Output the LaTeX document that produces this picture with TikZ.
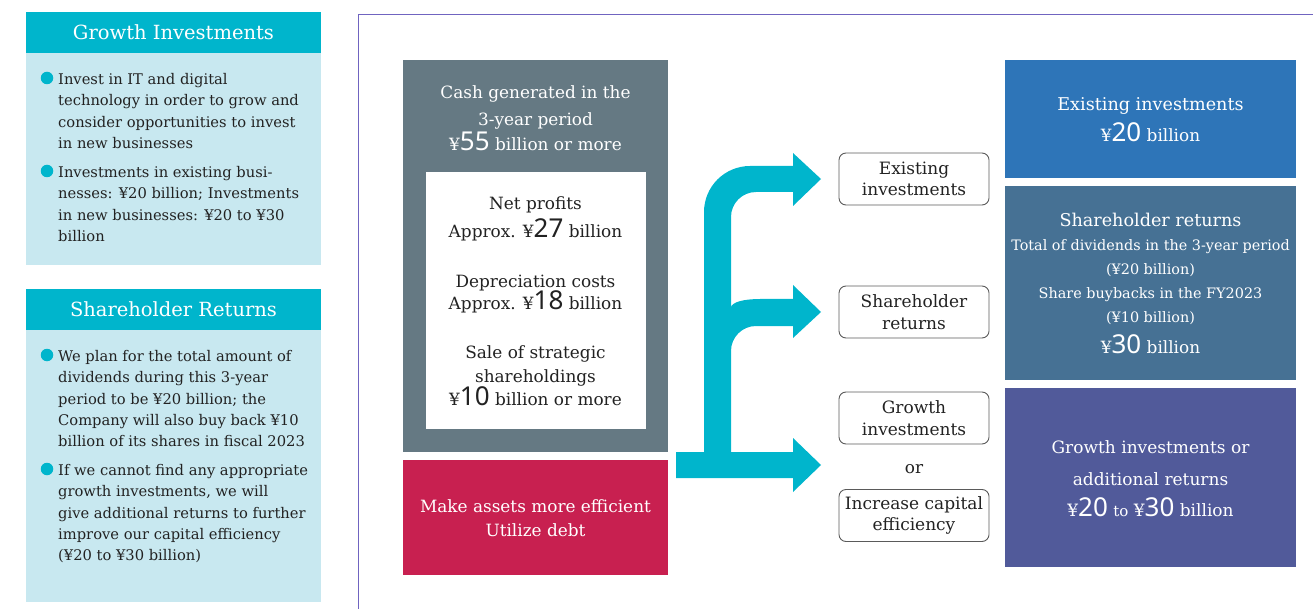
\documentclass[tikz,border=0pt]{standalone}
\usepackage{fontspec}
\setmainfont{DejaVu Serif}
\newfontfamily\numfont{Noto Sans}
\definecolor{teal}{RGB}{0,181,204}
\definecolor{paleblue}{RGB}{200,232,240}
\definecolor{ink}{RGB}{34,34,34}
\definecolor{framepurple}{RGB}{112,100,192}
\definecolor{slate}{RGB}{101,121,131}
\definecolor{crimson}{RGB}{200,32,80}
\definecolor{boxblue}{RGB}{46,117,184}
\definecolor{boxsteel}{RGB}{70,113,148}
\definecolor{boxindigo}{RGB}{81,90,154}
\definecolor{outline}{RGB}{90,90,90}
\newcommand\AmtBig[1]{{\numfont\fontsize{26}{26}\selectfont #1}}
\begin{document}
\begin{tikzpicture}[x=1pt,y=-1pt,
  panelhead/.style={fill=teal},
  panelbody/.style={fill=paleblue},
  headtext/.style={anchor=mid,inner sep=0,yshift=-4,text=white,font=\fontsize{19.5}{22}\selectfont},
  bodytext/.style={anchor=mid west,inner sep=0,yshift=-3,text=ink,font=\fontsize{14.7}{17}\selectfont},
  dot/.style={circle,fill=teal,inner sep=0,minimum size=12.5},
  ctext/.style={anchor=mid,inner sep=0,yshift=-3,font=\fontsize{16.9}{19}\selectfont},
  wtext/.style={ctext,text=white},
  ktext/.style={ctext,text=ink},
  small/.style={font=\fontsize{14.4}{16}\selectfont},
  choice/.style={draw=outline,line width=0.9,rounded corners=7,fill=white,
    minimum width=150,minimum height=52,inner sep=0,align=center,text=ink,
    font=\fontsize{17}{21.5}\selectfont},
  flow/.style={fill=teal}]
\useasboundingbox (0,0) rectangle (1313,609);

% ---- left column: Growth Investments
\fill[panelhead] (26,12) rectangle (321,53);
\fill[panelbody] (26,53) rectangle (321,265);
\node[headtext] (gtitle) at (173.5,33) {Growth Investments};
\node[dot] (gdot1) at (47,78) {};
\node[dot] (gdot2) at (47,171) {};
\foreach \t [count=\i] in {Invest in IT and digital,technology in order to grow and,consider opportunities to invest,in new businesses}
  \node[bodytext] (ga\i) at (58,79+21.4*\i-21.4) {\t};
\foreach \t [count=\i] in {Investments in existing busi-,nesses: ¥20 billion; Investments,in new businesses: ¥20 to ¥30,billion}
  \node[bodytext] (gb\i) at (58,172+21.4*\i-21.4) {\t};

% ---- left column: Shareholder Returns
\fill[panelhead] (26,289) rectangle (321,330);
\fill[panelbody] (26,330) rectangle (321,602);
\node[headtext] (stitle) at (173.5,310) {Shareholder Returns};
\node[dot] (sdot1) at (47,355) {};
\node[dot] (sdot2) at (47,469) {};
\foreach \t [count=\i] in {We plan for the total amount of,dividends during this 3-year,period to be ¥20 billion; the,Company will also buy back ¥10,billion of its shares in fiscal 2023}
  \node[bodytext] (sa\i) at (58,356+21.3*\i-21.3) {\t};
\foreach \t [count=\i] in {If we cannot find any appropriate,{growth investments, we will},give additional returns to further,improve our capital efficiency,(¥20 to ¥30 billion)}
  \node[bodytext] (sb\i) at (58,470+21.3*\i-21.3) {\t};

% ---- frame around the allocation chart
\draw[framepurple,line width=1.1] (358.5,609) -- (358.5,14.5) -- (1313,14.5);

% ---- cash sources
\fill[slate] (403,60) rectangle (668,452);
\fill[white] (426,172) rectangle (646,429);
\node[wtext] (cash1) at (535.5,93) {Cash generated in the};
\node[wtext] (cash2) at (535.5,120) {3-year period};
\node[wtext] (cash3) at (535.5,145) {¥\AmtBig{55} billion or more};
\node[ktext] (np1) at (535.5,204) {Net profits};
\node[ktext] (np2) at (535.5,232) {Approx. ¥\AmtBig{27} billion};
\node[ktext] (dc1) at (535.5,282) {Depreciation costs};
\node[ktext] (dc2) at (535.5,304) {Approx. ¥\AmtBig{18} billion};
\node[ktext] (ss1) at (535.5,353) {Sale of strategic};
\node[ktext] (ss2) at (535.5,377) {shareholdings};
\node[ktext] (ss3) at (535.5,400) {¥\AmtBig{10} billion or more};
\fill[crimson] (403,460) rectangle (668,575);
\node[wtext] (ef1) at (535.5,507) {Make assets more efficient};
\node[wtext] (ef2) at (535.5,531) {Utilize debt};

% ---- branching arrow
\fill[flow] (676,478) -- (793,478) -- (793,492) -- (821,465) -- (793,438) -- (793,452)
  -- (731,452) -- (731,351) arc[start angle=180,end angle=270,radius=25]
  -- (793,326) -- (793,338) -- (821,312) -- (793,285) -- (793,299) -- (760,299)
  .. controls (744,299) and (731,302) .. (731,308)
  -- (731,217) arc[start angle=180,end angle=270,radius=25]
  -- (793,192) -- (793,206) -- (821,179) -- (793,153) -- (793,166) -- (750,166)
  arc[start angle=270,end angle=180,radius=46]
  -- (704,452) -- (676,452) -- cycle;

% ---- uses of cash
\node[choice] (c1) at (914,179) {Existing\\investments};
\node[choice] (c2) at (914,312) {Shareholder\\returns};
\node[choice] (c3) at (914,418) {Growth\\investments};
\node[ktext] (orw) at (914,468) {or};
\node[choice] (c4) at (914,515.5) {Increase capital\\efficiency};

% ---- amounts
\fill[boxblue] (1005,60) rectangle (1296,178);
\node[wtext,font=\fontsize{17.6}{20}\selectfont] (e1) at (1150.5,105) {Existing investments};
\node[wtext] (e2) at (1150.5,136) {¥\AmtBig{20} billion};
\fill[boxsteel] (1005,186) rectangle (1296,380);
\node[wtext,font=\fontsize{17.6}{20}\selectfont] (r1) at (1150.5,221) {Shareholder returns};
\node[wtext,small] (r2) at (1150.5,245) {Total of dividends in the 3-year period};
\node[wtext,small] (r3) at (1150.5,269) {(¥20 billion)};
\node[wtext,small] (r4) at (1150.5,293) {Share buybacks in the FY2023};
\node[wtext,small] (r5) at (1150.5,317) {(¥10 billion)};
\node[wtext] (r6) at (1150.5,348) {¥\AmtBig{30} billion};
\fill[boxindigo] (1005,388) rectangle (1296,567);
\node[wtext,font=\fontsize{17}{20}\selectfont] (g1) at (1150.5,448) {Growth investments or};
\node[wtext,font=\fontsize{17}{20}\selectfont] (g2) at (1150.5,480) {additional returns};
\node[wtext,font=\fontsize{17}{20}\selectfont] (g3) at (1150.5,511) {¥\AmtBig{20} {\fontsize{15}{15}\selectfont to} ¥\AmtBig{30} billion};
\end{tikzpicture}
\end{document}
